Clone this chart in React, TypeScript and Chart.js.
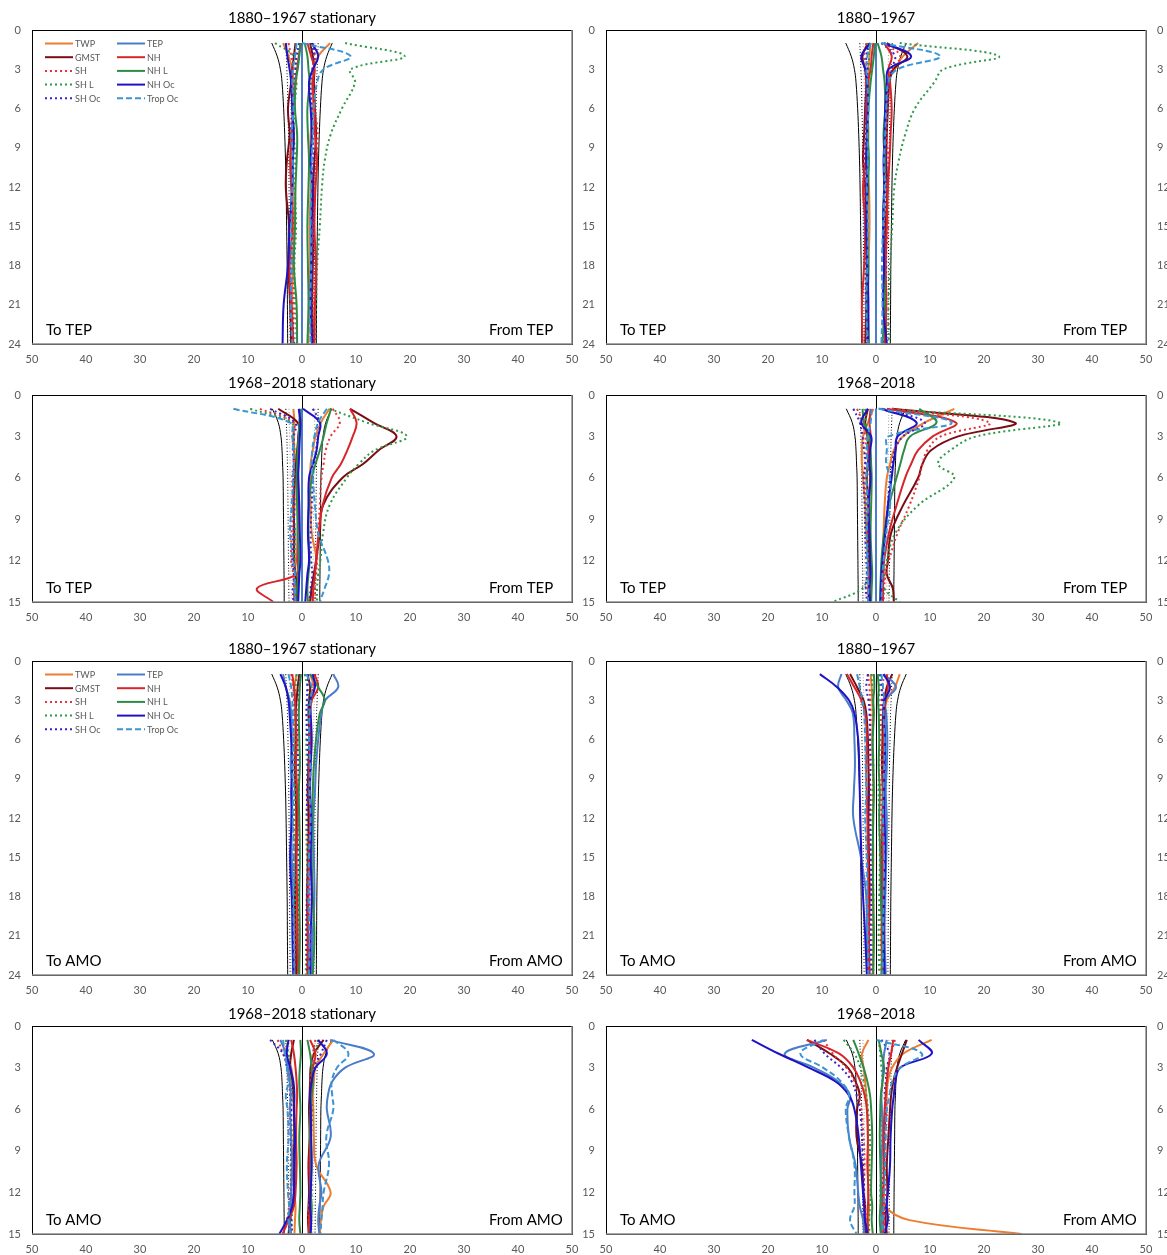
import React, { useEffect, useRef } from 'react';
import { Chart, registerables } from 'chart.js';

Chart.register(...registerables);

// Series shown in every panel (legend order: first five in column 1, the rest in column 2)
const SERIES_NAMES = ['TWP', 'GMST', 'SH', 'SH L', 'SH Oc', 'TEP', 'NH', 'NH L', 'NH Oc', 'Trop Oc'];
const SERIES_COLORS = ['#ED7D31', '#7A0C14', '#E8333A', '#2E9A47', '#3A22C8', '#4A7CC9', '#D6262B', '#2E8B45', '#1E12C4', '#3C94D2'];
const SERIES_DASH: number[][] = [[], [], [2, 3], [2, 3], [2, 3], [], [], [], [], [6, 3]];

// Lags (years) at which the profiles are sampled
const LAGS24 = [1, 2, 3, 4, 6, 8, 10, 12, 15, 18, 21, 24];
const LAGS15 = [1, 2, 3, 4, 5, 6, 8, 10, 12, 13, 14, 15];

// Tick labels
const X_TICKS = [-50, -40, -30, -20, -10, 0, 10, 20, 30, 40, 50];
const Y_TICKS_24 = [0, 3, 6, 9, 12, 15, 18, 21, 24];
const Y_TICKS_15 = [0, 3, 6, 9, 12, 15];

// Significance thresholds (magnitudes, drawn on both sides)
const SIG24_SOLID = [5.6, 4.6, 4.0, 3.7, 3.4, 3.2, 3.05, 2.95, 2.85, 2.75, 2.7, 2.65];
const SIG24_DOT = [3.0, 2.9, 2.8, 2.7, 2.6, 2.5, 2.45, 2.4, 2.35, 2.3, 2.25, 2.2];
const SIG24_GREY = [2.4, 2.3, 2.25, 2.2, 2.1, 2.05, 2.0, 1.95, 1.9, 1.9, 1.85, 1.85];
const SIG15_SOLID = [5.5, 4.4, 3.9, 3.7, 3.6, 3.5, 3.45, 3.4, 3.35, 3.33, 3.3, 3.3];
const SIG15_DOT = [3.0, 2.9, 2.8, 2.75, 2.7, 2.65, 2.6, 2.55, 2.5, 2.45, 2.45, 2.4];
const SIG15_GREY = [2.4, 2.35, 2.3, 2.25, 2.2, 2.2, 2.15, 2.1, 2.05, 2.05, 2.0, 2.0];

const ZERO12 = [0, 0, 0, 0, 0, 0, 0, 0, 0, 0, 0, 0];

// ---- TEP, 1880–1967 stationary ----
const TEP_EARLY_STAT_FROM = [
  [5.2, 3.0, 2.2, 1.9, 2.0, 1.6, 1.5, 1.6, 1.4, 1.5, 1.3, 1.2],
  [1.5, 2.0, 2.3, 2.2, 2.4, 2.6, 2.3, 2.1, 2.2, 2.0, 1.9, 2.1],
  [2.0, 2.5, 2.2, 2.0, 2.4, 2.9, 2.6, 2.4, 2.2, 2.3, 2.0, 2.2],
  [8.0, 19.0, 9.0, 9.8, 7.4, 5.3, 4.2, 3.7, 3.3, 2.8, 2.6, 2.4],
  [1.8, 2.2, 1.9, 1.6, 1.8, 2.0, 2.1, 1.9, 1.7, 1.9, 1.7, 1.8],
  ZERO12,
  [1.0, 1.7, 2.3, 2.0, 2.3, 2.4, 2.8, 2.5, 2.3, 2.6, 2.4, 2.3],
  [0.5, 1.0, 1.2, 1.4, 1.0, 1.1, 1.3, 1.2, 1.0, 1.1, 1.2, 1.0],
  [1.8, 3.0, 2.0, 1.3, 1.6, 1.8, 1.6, 1.9, 1.8, 1.7, 1.6, 1.9],
  [0.0, 9.0, 4.0, 2.8, 2.2, 2.0, 1.8, 1.7, 1.6, 1.7, 1.5, 1.6],
];
const TEP_EARLY_STAT_TO = [
  [3.5, 2.5, 1.8, 1.6, 1.8, 1.7, 1.9, 1.6, 1.5, 1.7, 1.8, 1.6],
  [1.2, 1.5, 1.8, 2.0, 2.6, 2.3, 2.8, 3.0, 2.4, 2.5, 2.2, 2.0],
  [2.5, 2.0, 1.6, 1.8, 1.5, 2.0, 1.8, 1.9, 1.6, 1.8, 1.5, 1.7],
  [5.0, 1.5, 1.2, 1.0, 1.4, 1.5, 1.2, 1.3, 1.1, 1.4, 1.2, 1.0],
  [0.5, 1.0, 1.2, 1.4, 1.8, 2.0, 1.6, 1.9, 1.8, 2.1, 1.9, 1.5],
  ZERO12,
  [0.2, 0.6, 0.9, 1.2, 1.6, 1.9, 2.2, 2.0, 1.8, 2.3, 2.0, 1.6],
  [0.3, 0.5, 0.8, 1.2, 1.3, 0.9, 1.0, 1.2, 1.3, 1.5, 1.0, 0.9],
  [3.0, 2.7, 2.3, 2.0, 1.8, 1.5, 1.7, 1.8, 2.3, 2.6, 3.4, 3.6],
  [1.0, 1.3, 1.7, 1.8, 1.6, 1.9, 1.7, 1.8, 2.0, 1.9, 2.1, 1.8],
];

// ---- TEP, 1880–1967 ----
const TEP_EARLY_FROM = [
  [7.8, 5.0, 3.5, 2.2, 1.9, 1.8, 1.7, 1.6, 1.5, 1.6, 1.8, 1.7],
  [2.0, 5.8, 3.2, 2.5, 2.2, 2.0, 1.9, 2.1, 1.8, 1.6, 1.7, 1.9],
  [1.5, 4.5, 3.0, 2.5, 2.2, 2.0, 2.3, 2.1, 2.2, 1.8, 1.6, 1.7],
  [4.4, 22.7, 12.5, 10.8, 7.2, 5.4, 4.2, 3.4, 3.0, 2.6, 2.3, 2.4],
  [1.0, 3.5, 2.8, 2.4, 2.0, 1.7, 1.9, 1.8, 1.6, 1.9, 1.5, 1.4],
  ZERO12,
  [1.5, 2.9, 2.3, 2.6, 2.9, 2.7, 2.5, 2.2, 2.0, 1.8, 1.9, 1.6],
  [0.3, 1.0, 1.3, 1.6, 1.7, 1.4, 1.6, 1.5, 1.3, 1.5, 1.6, 1.2],
  [1.5, 6.5, 2.3, 2.0, 1.7, 1.6, 1.4, 1.5, 1.3, 1.5, 1.3, 2.0],
  [1.0, 11.9, 4.0, 2.3, 1.9, 1.7, 1.5, 1.6, 1.3, 1.1, 1.2, 1.0],
];
const TEP_EARLY_TO = [
  [1.0, 1.2, 1.4, 1.3, 1.5, 1.4, 1.6, 1.3, 1.2, 1.4, 1.5, 1.3],
  [1.5, 2.5, 2.0, 1.8, 2.0, 2.2, 2.4, 2.0, 1.9, 1.7, 1.8, 2.0],
  [1.8, 2.2, 2.0, 1.9, 1.8, 2.0, 2.2, 2.1, 1.9, 2.0, 1.8, 1.7],
  [1.5, 1.3, 1.4, 1.6, 1.8, 1.5, 1.7, 1.6, 1.8, 1.9, 1.6, 1.5],
  [1.2, 1.8, 1.6, 1.7, 2.0, 1.8, 2.0, 1.9, 2.1, 1.8, 1.9, 1.6],
  ZERO12,
  [0.5, 0.8, 1.0, 1.5, 1.8, 1.6, 1.9, 2.4, 2.0, 2.2, 2.6, 2.5],
  [0.2, 0.4, 0.7, 1.0, 1.4, 1.5, 1.3, 1.5, 1.6, 1.4, 1.5, 1.3],
  [1.0, 2.7, 2.0, 1.6, 1.5, 1.7, 1.8, 1.6, 1.8, 1.6, 1.4, 1.5],
  [1.0, 1.6, 1.8, 1.6, 1.4, 1.6, 1.5, 1.7, 1.5, 1.6, 1.8, 1.5],
];

// ---- TEP, 1968–2018 stationary ----
const TEP_LATE_STAT_FROM = [
  [5.1, 3.5, 2.5, 2.0, 1.6, 1.5, 1.6, 1.8, 2.7, 2.2, 1.8, 1.5],
  [8.9, 13.2, 17.5, 14.2, 11.3, 7.5, 3.9, 3.3, 2.6, 2.2, 1.8, 1.5],
  [5.7, 7.0, 5.3, 4.4, 4.0, 3.6, 3.3, 3.0, 2.8, 2.6, 2.4, 2.5],
  [5.1, 12.0, 19.4, 13.5, 10.5, 8.3, 5.1, 3.9, 3.4, 3.0, 2.8, 2.8],
  [2.0, 3.3, 3.0, 2.6, 2.3, 2.0, 1.8, 1.6, 1.7, 1.9, 1.6, 1.4],
  ZERO12,
  [8.9, 10.1, 9.4, 8.4, 7.2, 5.5, 3.8, 3.1, 2.6, 2.4, 2.1, 2.0],
  [5.4, 4.6, 4.0, 3.3, 2.5, 1.8, 1.3, 1.2, 1.4, 1.2, 1.0, 1.1],
  [0.2, 3.3, 3.0, 2.7, 2.0, 1.3, 1.2, 1.1, 1.3, 1.0, 0.8, 0.6],
  [4.6, 3.0, 2.3, 1.9, 1.8, 2.0, 2.4, 3.0, 4.8, 5.0, 4.2, 3.3],
];
const TEP_LATE_STAT_TO = [
  [1.6, 1.4, 1.5, 1.4, 1.2, 1.3, 1.4, 1.5, 1.3, 1.2, 1.4, 1.5],
  [4.4, 0.8, 0.7, 0.9, 1.1, 1.3, 1.6, 1.4, 1.5, 1.2, 1.0, 1.1],
  [7.8, 1.6, 1.8, 1.5, 1.6, 1.8, 1.7, 1.9, 2.0, 1.6, 1.5, 1.4],
  [9.6, 2.0, 1.6, 1.4, 1.5, 1.4, 1.6, 1.3, 1.4, 1.5, 1.2, 1.3],
  [5.9, 1.3, 1.5, 1.7, 1.5, 1.6, 1.4, 1.6, 1.8, 1.5, 1.7, 1.6],
  ZERO12,
  [0.5, 0.3, 0.5, 0.6, 0.8, 0.7, 0.6, 0.8, 0.9, 1.0, 8.3, 5.3],
  [0.3, 0.5, 0.6, 0.8, 0.9, 1.0, 0.9, 0.8, 0.6, 0.7, 0.9, 0.8],
  [0.6, 0.3, 0.4, 0.5, 0.6, 0.7, 0.5, 0.4, 0.3, 0.5, 0.6, 0.7],
  [12.7, 2.2, 1.8, 1.6, 1.5, 1.6, 1.9, 2.2, 1.6, 1.3, 1.4, 1.2],
];

// ---- TEP, 1968–2018 ----
const TEP_LATE_FROM = [
  [14.5, 9.0, 5.0, 3.3, 2.6, 2.0, 1.6, 1.4, 1.2, 1.1, 1.0, 1.0],
  [3.0, 25.7, 15.2, 10.2, 8.6, 7.8, 5.0, 2.8, 2.2, 2.0, 3.1, 3.3],
  [3.0, 21.0, 12.0, 9.5, 8.6, 8.0, 6.2, 4.0, 2.4, 1.8, 1.5, 1.4],
  [0.5, 34.0, 18.6, 13.8, 11.5, 14.5, 7.8, 3.6, 2.0, 1.6, 1.5, 4.4],
  [1.0, 9.0, 5.0, 3.5, 3.0, 2.6, 2.2, 1.8, 1.4, 1.2, 1.1, 1.0],
  ZERO12,
  [2.0, 14.8, 10.5, 7.8, 6.5, 5.4, 3.8, 2.4, 1.5, 1.4, 1.3, 1.3],
  [8.0, 11.2, 6.3, 5.2, 4.5, 3.8, 2.4, 1.5, 1.0, 0.9, 0.8, 0.8],
  [1.0, 7.5, 4.0, 3.6, 3.2, 2.9, 2.2, 1.7, 1.2, 1.0, 0.9, 0.8],
  [0.5, 14.0, 2.3, 2.0, 1.9, 2.6, 2.6, 1.9, 1.4, 1.2, 1.1, 1.0],
];
const TEP_LATE_TO = [
  [0.5, 1.5, 2.4, 2.6, 2.6, 2.4, 2.0, 1.8, 1.5, 1.3, 1.2, 1.3],
  [1.5, 2.0, 1.6, 1.4, 1.5, 1.7, 1.4, 1.5, 1.3, 1.2, 1.4, 1.3],
  [3.5, 2.5, 2.0, 1.8, 1.9, 2.0, 1.8, 1.6, 1.5, 1.4, 1.6, 1.5],
  [2.0, 1.8, 1.6, 1.5, 1.4, 1.6, 1.8, 1.7, 1.5, 1.6, 2.5, 8.0],
  [4.2, 3.0, 2.5, 2.2, 2.0, 2.3, 2.1, 2.0, 1.8, 1.7, 1.9, 1.6],
  ZERO12,
  [1.0, 1.2, 1.0, 1.3, 1.2, 1.1, 1.3, 1.2, 1.0, 1.1, 1.2, 1.0],
  [2.5, 2.2, 1.2, 1.0, 0.9, 0.8, 0.9, 1.0, 0.8, 0.7, 0.8, 0.9],
  [1.5, 2.7, 0.9, 1.1, 1.2, 1.0, 1.4, 1.2, 1.1, 1.0, 1.2, 1.1],
  [0.8, 1.0, 1.5, 1.7, 1.6, 1.8, 1.5, 1.7, 1.6, 1.5, 1.4, 1.5],
];

// ---- AMO, 1880–1967 stationary ----
const AMO_EARLY_STAT_FROM = [
  [1.5, 2.2, 1.8, 1.5, 1.3, 1.2, 1.0, 1.1, 1.0, 0.9, 1.0, 0.9],
  [1.0, 1.5, 1.3, 1.2, 1.4, 1.2, 1.1, 1.3, 1.2, 1.0, 1.1, 1.2],
  [2.5, 2.0, 1.6, 1.4, 1.5, 1.6, 1.4, 1.5, 1.3, 1.4, 1.2, 1.3],
  [0.5, 1.0, 1.2, 1.0, 0.8, 0.9, 1.0, 0.8, 0.9, 1.0, 0.8, 0.7],
  [1.2, 1.0, 0.9, 0.8, 1.0, 1.1, 0.9, 1.0, 1.1, 0.9, 0.8, 1.0],
  [5.8, 6.7, 4.3, 3.6, 3.0, 2.6, 2.4, 2.1, 2.2, 2.3, 2.0, 1.8],
  [2.3, 3.0, 1.8, 1.5, 1.6, 1.3, 1.4, 1.5, 1.3, 1.2, 1.1, 1.2],
  [1.5, 3.0, 4.2, 3.3, 2.6, 2.2, 2.0, 1.9, 1.8, 2.0, 2.3, 2.0],
  [2.0, 2.4, 1.5, 1.6, 1.8, 1.6, 1.5, 1.7, 1.6, 1.8, 1.6, 1.5],
  [0.8, 1.8, 1.6, 1.4, 1.3, 1.5, 1.4, 1.6, 1.3, 1.2, 1.4, 1.3],
];
const AMO_EARLY_STAT_TO = [
  [1.0, 1.4, 1.2, 1.1, 1.3, 1.2, 1.0, 1.1, 1.2, 1.0, 0.9, 1.0],
  [0.5, 0.8, 1.0, 1.2, 1.1, 1.3, 1.2, 1.0, 1.1, 1.3, 1.2, 1.1],
  [2.0, 1.6, 1.5, 1.4, 1.6, 1.5, 1.3, 1.4, 1.6, 1.5, 1.3, 1.4],
  [1.0, 1.2, 1.4, 1.3, 1.2, 1.4, 1.3, 1.5, 1.4, 1.3, 1.5, 1.4],
  [0.3, 0.5, 0.6, 0.7, 0.8, 0.7, 0.6, 0.8, 0.7, 0.6, 0.8, 0.7],
  [3.5, 3.0, 2.3, 2.0, 1.9, 2.1, 1.8, 2.0, 1.9, 1.7, 1.8, 1.6],
  [1.8, 1.5, 1.3, 1.2, 1.0, 1.1, 0.9, 0.8, 1.0, 0.9, 0.8, 0.7],
  [0.2, 0.4, 0.5, 0.6, 0.5, 0.4, 0.6, 0.5, 0.4, 0.5, 0.4, 0.5],
  [4.0, 3.0, 2.5, 2.3, 2.0, 1.8, 2.0, 1.9, 2.2, 1.9, 1.7, 1.6],
  [2.5, 2.0, 1.8, 1.7, 1.6, 1.8, 1.6, 1.7, 1.5, 1.6, 1.5, 1.4],
];

// ---- AMO, 1880–1967 ----
const AMO_EARLY_FROM = [
  [4.4, 3.5, 2.0, 1.6, 1.4, 1.3, 1.2, 1.3, 1.2, 1.1, 1.0, 1.1],
  [3.0, 2.0, 1.5, 1.3, 1.2, 1.1, 1.3, 1.2, 1.1, 1.0, 1.2, 1.1],
  [1.5, 1.2, 1.0, 0.9, 1.0, 1.1, 0.9, 1.0, 0.9, 0.8, 0.9, 1.0],
  [0.5, 0.6, 0.5, 0.6, 0.7, 0.6, 0.5, 0.6, 0.7, 0.6, 0.5, 0.6],
  [0.8, 1.0, 1.2, 1.3, 1.5, 1.6, 1.4, 1.5, 1.3, 1.2, 1.4, 1.3],
  [1.4, 3.7, 1.7, 1.9, 2.1, 2.0, 1.8, 2.0, 1.9, 1.7, 1.6, 1.8],
  [2.0, 2.2, 1.8, 1.6, 1.4, 1.5, 1.3, 1.4, 1.2, 1.3, 1.4, 1.3],
  [0.3, 0.5, 0.4, 0.5, 0.6, 0.5, 0.7, 0.6, 0.8, 0.9, 1.2, 1.0],
  [1.4, 2.6, 1.6, 1.5, 1.7, 1.6, 1.5, 1.6, 1.7, 1.5, 1.4, 1.6],
  [1.0, 1.3, 1.5, 1.4, 1.6, 1.5, 1.4, 1.3, 1.5, 1.4, 1.3, 1.2],
];
const AMO_EARLY_TO = [
  [1.0, 0.8, 0.7, 0.6, 0.7, 0.6, 0.5, 0.6, 0.5, 0.6, 0.5, 0.6],
  [4.8, 3.5, 2.3, 1.8, 1.5, 1.4, 1.3, 1.4, 1.3, 1.2, 1.3, 1.2],
  [1.5, 1.2, 1.1, 1.0, 1.1, 1.2, 1.0, 1.1, 1.0, 0.9, 1.0, 1.1],
  [0.8, 0.7, 0.6, 0.5, 0.6, 0.5, 0.6, 0.7, 0.6, 0.5, 0.6, 0.5],
  [1.5, 1.8, 1.4, 1.2, 1.1, 1.0, 1.2, 1.1, 1.0, 0.9, 1.0, 0.8],
  [6.4, 7.0, 5.5, 4.3, 4.0, 3.9, 4.1, 4.2, 2.8, 1.8, 1.7, 1.6],
  [5.4, 4.0, 2.7, 2.0, 1.7, 1.8, 1.7, 1.6, 1.5, 1.4, 1.3, 1.4],
  [0.4, 0.3, 0.5, 0.4, 0.6, 0.5, 0.4, 0.5, 0.6, 0.5, 0.4, 0.5],
  [10.4, 7.2, 5.0, 4.0, 3.3, 3.1, 3.0, 2.9, 2.7, 2.4, 2.0, 1.7],
  [3.5, 3.0, 2.5, 2.2, 2.0, 1.9, 1.8, 2.0, 1.7, 1.6, 1.5, 1.4],
];

// ---- AMO, 1968–2018 stationary ----
const AMO_LATE_STAT_FROM = [
  [5.8, 4.0, 2.5, 2.2, 2.0, 2.1, 2.2, 2.6, 5.3, 4.0, 3.5, 3.3],
  [4.0, 2.2, 1.6, 1.5, 1.4, 1.3, 1.4, 1.2, 1.3, 1.2, 1.1, 1.3],
  [2.5, 2.0, 1.8, 1.6, 1.7, 1.5, 1.6, 1.4, 1.5, 1.3, 1.2, 1.4],
  [3.0, 2.5, 2.0, 1.8, 1.7, 1.9, 1.7, 1.6, 1.8, 1.6, 1.5, 1.7],
  [4.6, 3.5, 2.2, 1.8, 1.6, 1.5, 1.6, 1.4, 1.3, 1.4, 1.5, 1.3],
  [5.2, 13.3, 8.0, 5.6, 4.8, 4.6, 5.3, 3.1, 3.6, 3.2, 3.0, 3.2],
  [1.5, 2.5, 2.0, 1.8, 1.6, 1.7, 1.5, 1.4, 1.6, 1.5, 1.3, 1.2],
  [1.0, 1.5, 1.8, 2.0, 1.8, 1.6, 1.5, 1.7, 1.6, 1.8, 1.7, 1.5],
  [3.0, 4.6, 2.5, 1.8, 1.5, 1.6, 1.7, 1.8, 1.6, 1.5, 1.7, 1.6],
  [5.8, 8.6, 6.5, 5.5, 5.6, 5.8, 4.5, 5.0, 4.0, 3.8, 3.6, 3.4],
];
const AMO_LATE_STAT_TO = [
  [2.5, 3.0, 2.0, 1.7, 1.5, 1.4, 1.5, 1.3, 1.4, 1.2, 1.3, 1.4],
  [1.5, 2.0, 2.2, 1.8, 1.6, 1.5, 1.4, 1.6, 1.5, 1.8, 2.2, 2.5],
  [4.5, 3.5, 2.6, 2.2, 2.0, 2.3, 2.1, 1.9, 2.2, 2.4, 2.8, 3.4],
  [3.0, 2.5, 2.2, 2.0, 1.8, 2.0, 1.9, 2.1, 2.0, 1.8, 1.9, 2.0],
  [5.9, 3.5, 2.8, 2.4, 2.2, 2.0, 2.1, 1.9, 2.0, 2.2, 2.0, 1.8],
  [4.0, 3.0, 2.6, 2.3, 2.1, 2.2, 2.0, 1.8, 2.0, 2.1, 2.3, 2.0],
  [2.0, 1.5, 1.2, 1.0, 0.9, 1.0, 1.1, 1.0, 1.2, 1.5, 2.5, 3.6],
  [0.3, 0.2, 0.4, 0.5, 0.4, 0.3, 0.5, 0.4, 0.3, 0.4, 0.5, 0.3],
  [2.5, 2.8, 2.2, 1.6, 1.4, 1.5, 1.3, 1.4, 1.5, 1.8, 2.8, 4.2],
  [3.5, 3.2, 2.8, 2.5, 3.0, 2.7, 2.5, 2.8, 2.6, 2.4, 2.5, 2.2],
];

// ---- AMO, 1968–2018 ----
const AMO_LATE_FROM = [
  [10.3, 5.0, 3.0, 2.2, 2.0, 1.8, 1.5, 1.4, 1.5, 1.6, 6.2, 27.0],
  [5.7, 4.8, 3.9, 3.2, 2.8, 2.6, 2.3, 2.0, 2.1, 1.9, 1.8, 2.0],
  [3.5, 2.8, 2.2, 2.0, 1.8, 2.0, 1.7, 1.6, 1.8, 1.7, 1.5, 1.6],
  [0.5, 0.8, 1.0, 1.2, 1.0, 0.9, 1.1, 1.0, 0.8, 0.9, 1.0, 0.8],
  [1.0, 2.5, 2.0, 1.8, 1.6, 1.8, 1.5, 1.4, 1.3, 1.5, 1.4, 1.3],
  [2.0, 1.5, 1.3, 1.2, 1.0, 1.1, 1.2, 1.0, 0.9, 1.0, 1.1, 0.9],
  [3.2, 2.8, 2.3, 2.0, 1.8, 1.6, 1.4, 1.5, 1.3, 1.2, 1.4, 1.3],
  [0.5, 1.0, 1.5, 1.2, 0.9, 0.8, 0.7, 0.8, 0.9, 0.8, 0.7, 0.9],
  [7.9, 10.3, 4.5, 3.6, 3.3, 3.0, 2.7, 2.6, 2.2, 2.0, 2.2, 1.6],
  [0.1, 8.5, 4.5, 3.0, 2.5, 2.0, 1.8, 1.7, 1.5, 1.4, 1.3, 1.2],
];
const AMO_LATE_TO = [
  [1.4, 2.6, 2.3, 2.0, 1.8, 1.6, 1.5, 1.4, 1.5, 1.3, 1.4, 1.5],
  [12.8, 8.5, 5.2, 3.8, 3.0, 3.5, 3.6, 2.6, 2.3, 2.0, 2.2, 2.0],
  [9.7, 8.0, 5.5, 4.0, 3.2, 2.7, 2.3, 2.1, 2.3, 2.0, 1.9, 1.8],
  [6.0, 4.0, 2.9, 2.3, 1.8, 1.5, 1.1, 1.2, 1.0, 1.1, 1.3, 1.2],
  [11.4, 9.5, 6.5, 4.5, 3.6, 3.0, 2.6, 2.4, 2.2, 2.3, 2.1, 2.0],
  [9.1, 16.9, 11.5, 7.0, 4.8, 5.3, 5.0, 3.8, 3.3, 3.0, 2.4, 2.2],
  [12.8, 6.8, 4.2, 2.9, 2.1, 1.7, 1.5, 1.6, 1.4, 1.5, 1.6, 1.4],
  [4.2, 3.2, 2.3, 1.6, 1.1, 0.9, 0.7, 0.8, 0.9, 0.7, 0.8, 0.6],
  [23.0, 18.0, 12.5, 7.5, 5.0, 4.0, 3.2, 2.8, 2.4, 2.2, 2.0, 1.6],
  [9.7, 14.0, 9.8, 6.5, 5.0, 5.6, 5.0, 4.0, 4.0, 4.0, 4.8, 3.6],
];

type PanelCfg = {
  title: string;
  target: string;
  row: number;
  col: number;
  legend: boolean;
  long: boolean;
  from: number[][];
  to: number[][];
};

const PANELS: PanelCfg[] = [
  { title: '1880–1967 stationary', target: 'TEP', row: 0, col: 0, legend: true, long: true, from: TEP_EARLY_STAT_FROM, to: TEP_EARLY_STAT_TO },
  { title: '1880–1967', target: 'TEP', row: 0, col: 1, legend: false, long: true, from: TEP_EARLY_FROM, to: TEP_EARLY_TO },
  { title: '1968–2018 stationary', target: 'TEP', row: 1, col: 0, legend: false, long: false, from: TEP_LATE_STAT_FROM, to: TEP_LATE_STAT_TO },
  { title: '1968–2018', target: 'TEP', row: 1, col: 1, legend: false, long: false, from: TEP_LATE_FROM, to: TEP_LATE_TO },
  { title: '1880–1967 stationary', target: 'AMO', row: 2, col: 0, legend: true, long: true, from: AMO_EARLY_STAT_FROM, to: AMO_EARLY_STAT_TO },
  { title: '1880–1967', target: 'AMO', row: 2, col: 1, legend: false, long: true, from: AMO_EARLY_FROM, to: AMO_EARLY_TO },
  { title: '1968–2018 stationary', target: 'AMO', row: 3, col: 0, legend: false, long: false, from: AMO_LATE_STAT_FROM, to: AMO_LATE_STAT_TO },
  { title: '1968–2018', target: 'AMO', row: 3, col: 1, legend: false, long: false, from: AMO_LATE_FROM, to: AMO_LATE_TO },
];

// Page geometry of the panel grid
const ROW_CANVAS_TOP = [0, 365, 631, 996];
const ROW_PLOT_BOTTOM = [344, 602, 975, 1234];
const PLOT_TOP_PAD = 30;
const X_AXIS_H = 26;
const FONT = 'Lato, "Open Sans", sans-serif';
const TICK_COLOR = '#595959';

function profile(lags: number[], vals: number[], sign: number) {
  return lags.map((l, i) => ({ x: sign * vals[i], y: l }));
}

function buildDatasets(p: PanelCfg) {
  const lags = p.long ? LAGS24 : LAGS15;
  const sigs = p.long
    ? [[SIG24_SOLID, '#000000', []], [SIG24_DOT, '#000000', [1, 2]], [SIG24_GREY, '#a0a0a0', [1, 2]]]
    : [[SIG15_SOLID, '#000000', []], [SIG15_DOT, '#000000', [1, 2]], [SIG15_GREY, '#a0a0a0', [1, 2]]];
  const ds: any[] = [];
  SERIES_NAMES.forEach((name, i) => {
    [[p.to[i], -1], [p.from[i], 1]].forEach(([vals, sign]: any) => {
      ds.push({
        label: name,
        data: profile(lags, vals, sign),
        showLine: true,
        borderColor: SERIES_COLORS[i],
        backgroundColor: SERIES_COLORS[i],
        borderWidth: 2,
        borderDash: SERIES_DASH[i],
        pointRadius: 0,
        tension: 0.4,
        fill: false,
        order: 10 - i,
      });
    });
  });
  sigs.forEach(([vals, color, dash]: any) => {
    [-1, 1].forEach((sign) => {
      ds.push({
        label: 'sig',
        data: profile(lags, vals, sign),
        showLine: true,
        borderColor: color,
        borderWidth: 1,
        borderDash: dash,
        pointRadius: 0,
        tension: 0.4,
        fill: false,
        order: 20,
      });
    });
  });
  return ds;
}

function makeDecor(p: PanelCfg) {
  return {
    id: 'panelDecor',
    beforeDatasetsDraw(chart: any) {
      const { ctx, chartArea: a, scales } = chart;
      const x0 = Math.round(scales.x.getPixelForValue(0)) + 0.5;
      ctx.save();
      ctx.strokeStyle = '#000';
      ctx.lineWidth = 1;
      ctx.beginPath();
      ctx.moveTo(x0, a.top);
      ctx.lineTo(x0, a.bottom);
      ctx.stroke();
      ctx.restore();
    },
    afterDraw(chart: any) {
      const { ctx, chartArea: a } = chart;
      ctx.save();
      // plot frame
      ctx.strokeStyle = '#000';
      ctx.lineWidth = 1;
      ctx.strokeRect(Math.round(a.left) + 0.5, Math.round(a.top) + 0.5, Math.round(a.right - a.left), Math.round(a.bottom - a.top));
      ctx.strokeStyle = '#8a8a8a';
      ctx.lineWidth = 1.5;
      ctx.beginPath();
      ctx.moveTo(a.left, a.bottom);
      ctx.lineTo(a.right, a.bottom);
      ctx.lineTo(a.right, a.top);
      ctx.stroke();

      // title
      ctx.fillStyle = '#000';
      ctx.font = `15px ${FONT}`;
      ctx.textAlign = 'center';
      ctx.textBaseline = 'middle';
      ctx.fillText(p.title, (a.left + a.right) / 2, a.top - 12);

      // direction labels
      ctx.textBaseline = 'alphabetic';
      ctx.textAlign = 'left';
      ctx.fillText(`To ${p.target}`, a.left + 14, a.bottom - 9);
      ctx.fillText(`From ${p.target}`, a.right - 83, a.bottom - 9);

      // legend
      if (p.legend) {
        ctx.font = `9px ${FONT}`;
        ctx.textAlign = 'left';
        ctx.textBaseline = 'middle';
        SERIES_NAMES.forEach((name, i) => {
          const col = i < 5 ? 0 : 1;
          const row = i % 5;
          const lx = a.left + 13 + col * 72;
          const ly = a.top + 13.5 + row * 13.7;
          ctx.strokeStyle = SERIES_COLORS[i];
          ctx.lineWidth = 2;
          ctx.setLineDash(SERIES_DASH[i]);
          ctx.beginPath();
          ctx.moveTo(lx, ly);
          ctx.lineTo(lx + 28, ly);
          ctx.stroke();
          ctx.setLineDash([]);
          ctx.fillStyle = TICK_COLOR;
          ctx.fillText(name, lx + 30, ly + 0.5);
        });
      }
      ctx.restore();
    },
  };
}

function Panel({ p }: { p: PanelCfg }) {
  const ref = useRef<HTMLCanvasElement>(null);
  const left = p.col === 0 ? 0 : 574;
  const width = p.col === 0 ? 590 : 593;
  const top = ROW_CANVAS_TOP[p.row];
  const height = ROW_PLOT_BOTTOM[p.row] - top + X_AXIS_H;

  useEffect(() => {
    if (!ref.current) return;
    const yTicks = p.long ? Y_TICKS_24 : Y_TICKS_15;
    const yMax = p.long ? 24 : 15;
    const yAxis = (position: string, w: number, pad: number) => ({
      type: 'linear',
      position,
      reverse: true,
      min: 0,
      max: yMax,
      grid: { display: false, drawTicks: false },
      border: { display: false },
      afterBuildTicks: (s: any) => {
        s.ticks = yTicks.map((v) => ({ value: v }));
      },
      afterFit: (s: any) => {
        s.width = w;
      },
      ticks: { color: TICK_COLOR, font: { family: FONT, size: 11 }, padding: pad },
    });
    const scales: any = {
      x: {
        type: 'linear',
        min: -50,
        max: 50,
        grid: { display: false, drawTicks: false },
        border: { display: false },
        afterBuildTicks: (s: any) => {
          s.ticks = X_TICKS.map((v) => ({ value: v }));
        },
        afterFit: (s: any) => {
          s.height = X_AXIS_H;
        },
        ticks: {
          color: TICK_COLOR,
          font: { family: FONT, size: 11 },
          padding: 9,
          maxRotation: 0,
          autoSkip: false,
          callback: (v: any) => String(Math.abs(Number(v))),
        },
      },
      y: yAxis('left', 32, 11),
    };
    if (p.col === 1) scales.y2 = yAxis('right', 21, 11);

    const chart = new Chart(ref.current, {
      type: 'scatter',
      data: { datasets: buildDatasets(p) },
      options: {
        animation: false,
        responsive: false,
        devicePixelRatio: 1,
        events: [],
        layout: { padding: { top: PLOT_TOP_PAD, right: p.col === 0 ? 18 : 0, left: 0, bottom: 0 } },
        plugins: { legend: { display: false }, tooltip: { enabled: false }, title: { display: false } },
        scales,
      },
      plugins: [makeDecor(p)],
    } as any);
    return () => chart.destroy();
  }, []);

  return (
    <canvas
      ref={ref}
      width={width}
      height={height}
      style={{ position: 'absolute', left, top, width, height }}
    />
  );
}

export default function App() {
  return (
    <div style={{ position: 'absolute', left: 0, top: 0, width: 1167, height: 1255, overflow: 'hidden', background: '#fff' }}>
      {PANELS.map((p, i) => (
        <Panel key={i} p={p} />
      ))}
    </div>
  );
}
